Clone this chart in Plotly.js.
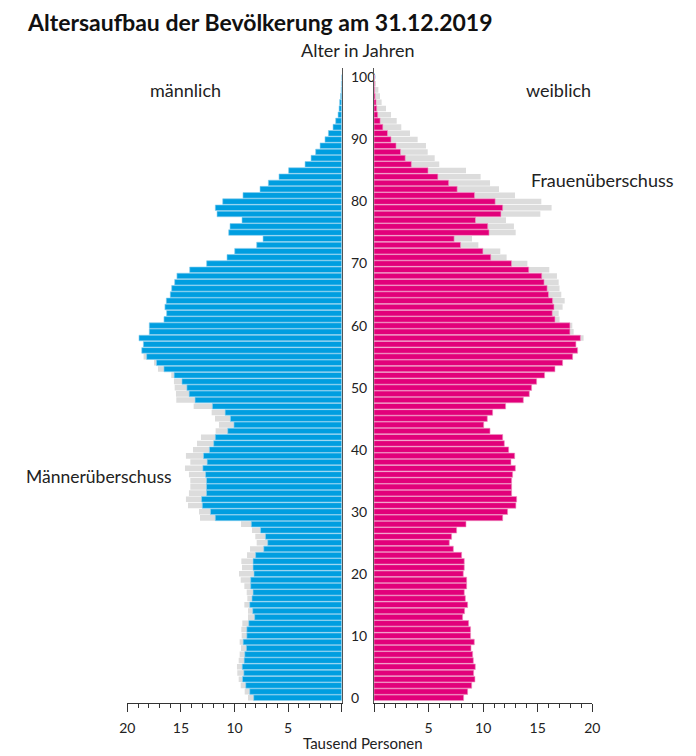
<!DOCTYPE html>
<html>
<head>
<meta charset="utf-8">
<script src="https://cdn.plot.ly/plotly-3.0.1.min.js"></script>
<style>
  html, body { margin: 0; padding: 0; background: #ffffff; }
  #chart { width: 696px; height: 756px; }
</style>
</head>
<body>
<div id="chart"></div>
<script>
// Ages 0..100
const ages = Array.from({length: 101}, (_, i) => i);

// Thousand persons, male, age 0..100
const male = [
  8.74, 9.05, 9.42, 9.61, 9.74, 9.77, 9.61, 9.52, 9.39, 9.52,
  9.33, 9.36, 9.27, 8.74, 8.74, 9.08, 8.80, 8.86, 9.08, 9.42,
  9.58, 9.30, 9.36, 8.83, 8.55, 7.93, 8.06, 8.37, 9.39, 13.22,
  13.31, 14.34, 14.53, 14.25, 14.12, 14.12, 14.25, 14.62, 14.12, 14.53,
  13.87, 13.50, 13.13, 11.76, 11.45, 11.82, 12.13, 13.81, 15.43, 15.46,
  15.58, 15.65, 15.90, 17.14, 17.51, 18.48, 18.65, 18.50, 18.91, 17.95,
  17.95, 16.58, 16.33, 16.49, 16.36, 15.99, 15.86, 15.58, 15.37, 14.18,
  12.60, 10.70, 9.98, 7.93, 7.34, 10.54, 10.42, 9.30, 11.63, 11.79,
  11.10, 9.21, 7.62, 6.84, 5.85, 4.95, 3.42, 2.86, 2.43, 2.02,
  1.56, 1.24, 0.81, 0.56, 0.34, 0.25, 0.19, 0.10, 0.05, 0.03,
  0.01
];

// Thousand persons, female, age 0..100
const female = [
  8.21, 8.58, 8.95, 9.25, 9.13, 9.28, 9.10, 9.04, 8.89, 9.19,
  8.85, 8.85, 8.67, 8.12, 8.30, 8.58, 8.37, 8.27, 8.49, 8.49,
  8.18, 8.27, 8.27, 8.03, 7.27, 6.90, 7.11, 7.57, 8.43, 11.79,
  12.24, 13.00, 13.07, 12.61, 12.61, 12.61, 12.70, 12.95, 12.55, 12.89,
  12.34, 11.94, 11.79, 10.63, 10.05, 10.38, 10.87, 12.06, 13.68, 14.23,
  14.44, 14.90, 15.63, 16.58, 17.28, 18.20, 18.70, 18.50, 19.20, 18.29,
  18.17, 17.00, 16.92, 17.28, 17.47, 17.16, 17.00, 16.92, 16.76, 16.06,
  14.05, 12.15, 11.57, 9.56, 8.98, 12.98, 12.82, 12.09, 15.24, 16.27,
  15.33, 12.92, 11.45, 10.63, 9.77, 8.43, 5.98, 5.56, 4.92, 4.76,
  4.00, 3.30, 2.50, 2.08, 1.56, 1.10, 0.70, 0.55, 0.40, 0.18,
  0.08
];

const ageTicks = [0, 10, 20, 30, 40, 50, 60, 70, 80, 90, 100];
const valueTicks = [0, 5, 10, 15, 20];
const valueTickText = ['', '5', '10', '15', '20'];

// part shared by both sexes (coloured), the rest is surplus (grey)
const common = male.map((m, i) => Math.min(m, female[i]));

const BLUE = '#009ee0', MAGENTA = '#e2007a', GREY = '#dcdcdc';
const FONT = 'Lato, "Open Sans", sans-serif';

const traces = [
  {type: 'bar', orientation: 'h', x: male, y: ages, xaxis: 'x', yaxis: 'y',
   marker: {color: GREY, line: {width: 0}}, hoverinfo: 'skip'},
  {type: 'bar', orientation: 'h', x: common, y: ages, xaxis: 'x', yaxis: 'y',
   marker: {color: BLUE, line: {color: '#8fd3f3', width: 0.6}}, hoverinfo: 'skip'},
  {type: 'bar', orientation: 'h', x: female, y: ages, xaxis: 'x2', yaxis: 'y2',
   marker: {color: GREY, line: {width: 0}}, hoverinfo: 'skip'},
  {type: 'bar', orientation: 'h', x: common, y: ages, xaxis: 'x2', yaxis: 'y2',
   marker: {color: MAGENTA, line: {color: '#f39bc8', width: 0.6}}, hoverinfo: 'skip'}
];

const W = 696, H = 756, T = 68, B = 756 - 702.7;
const PH = H - T - B;
const py = (p) => (702.7 - p) / PH;   // pixel -> paper y
const px = (p) => p / W;              // pixel -> paper x

const xCommon = {
  tickmode: 'array', tickvals: valueTicks, ticktext: valueTickText,
  showline: true, linecolor: '#333', linewidth: 1,
  ticks: 'outside', ticklen: 8, tickwidth: 1, tickcolor: '#333',
  minor: {tickmode: 'linear', tick0: 0, dtick: 1, ticks: 'outside', ticklen: 4, tickwidth: 1, tickcolor: '#333'},
  showgrid: false, zeroline: false,
  tickfont: {family: FONT, size: 14, color: '#222'},
  ticklabelstandoff: 4,
  fixedrange: true
};

const layout = {
  width: W, height: H,
  margin: {l: 0, r: 0, t: T, b: B, pad: 0},
  paper_bgcolor: '#ffffff', plot_bgcolor: '#ffffff',
  showlegend: false,
  barmode: 'overlay', bargap: 0.1,
  font: {family: FONT, color: '#222'},
  title: {
    text: '<b>Altersaufbau der Bevölkerung am 31.12.2019</b>',
    x: px(28), xanchor: 'left', xref: 'paper',
    y: 1 - 23 / H, yanchor: 'middle', yref: 'container',
    font: {family: FONT, size: 23, color: '#111'}
  },
  xaxis: Object.assign({}, xCommon, {domain: [127.3 / W, 341.7 / W], range: [20, 0], anchor: 'y'}),
  xaxis2: Object.assign({}, xCommon, {domain: [374 / W, 592.3 / W], range: [0, 20], anchor: 'y2'}),
  yaxis: {
    anchor: 'x', side: 'right', range: [-0.84, 101.53],
    tickmode: 'array', tickvals: ageTicks,
    showline: true, linecolor: '#555', linewidth: 1.5,
    ticks: '', showgrid: false, zeroline: false,
    tickfont: {family: FONT, size: 14, color: '#222'},
    ticklabelstandoff: 5, fixedrange: true
  },
  yaxis2: {
    anchor: 'x2', side: 'left', matches: 'y', range: [-0.84, 101.53],
    showticklabels: false,
    showline: true, linecolor: '#555', linewidth: 1.5,
    ticks: '', showgrid: false, zeroline: false, fixedrange: true
  },
  annotations: [
    {text: 'Alter in Jahren', x: px(358), y: py(50), xref: 'paper', yref: 'paper',
     xanchor: 'center', yanchor: 'middle', showarrow: false, font: {family: FONT, size: 18, color: '#222'}},
    {text: 'männlich', x: px(185), y: py(90), xref: 'paper', yref: 'paper',
     xanchor: 'center', yanchor: 'middle', showarrow: false, font: {family: FONT, size: 18, color: '#222'}},
    {text: 'weiblich', x: px(558), y: py(90), xref: 'paper', yref: 'paper',
     xanchor: 'center', yanchor: 'middle', showarrow: false, font: {family: FONT, size: 18, color: '#222'}},
    {text: 'Frauenüberschuss', x: px(529), y: py(180), xref: 'paper', yref: 'paper',
     xanchor: 'left', yanchor: 'middle', showarrow: false, font: {family: FONT, size: 18, color: '#222'}},
    {text: 'Männerüberschuss', x: px(24), y: py(476), xref: 'paper', yref: 'paper',
     xanchor: 'left', yanchor: 'middle', showarrow: false, font: {family: FONT, size: 17.5, color: '#222'}},
    {text: 'Tausend Personen', x: px(363), y: py(743), xref: 'paper', yref: 'paper',
     xanchor: 'center', yanchor: 'middle', showarrow: false, font: {family: FONT, size: 15, color: '#222'}}
  ]
};

Plotly.newPlot('chart', traces, layout, {displayModeBar: false, staticPlot: true});
</script>
</body>
</html>
